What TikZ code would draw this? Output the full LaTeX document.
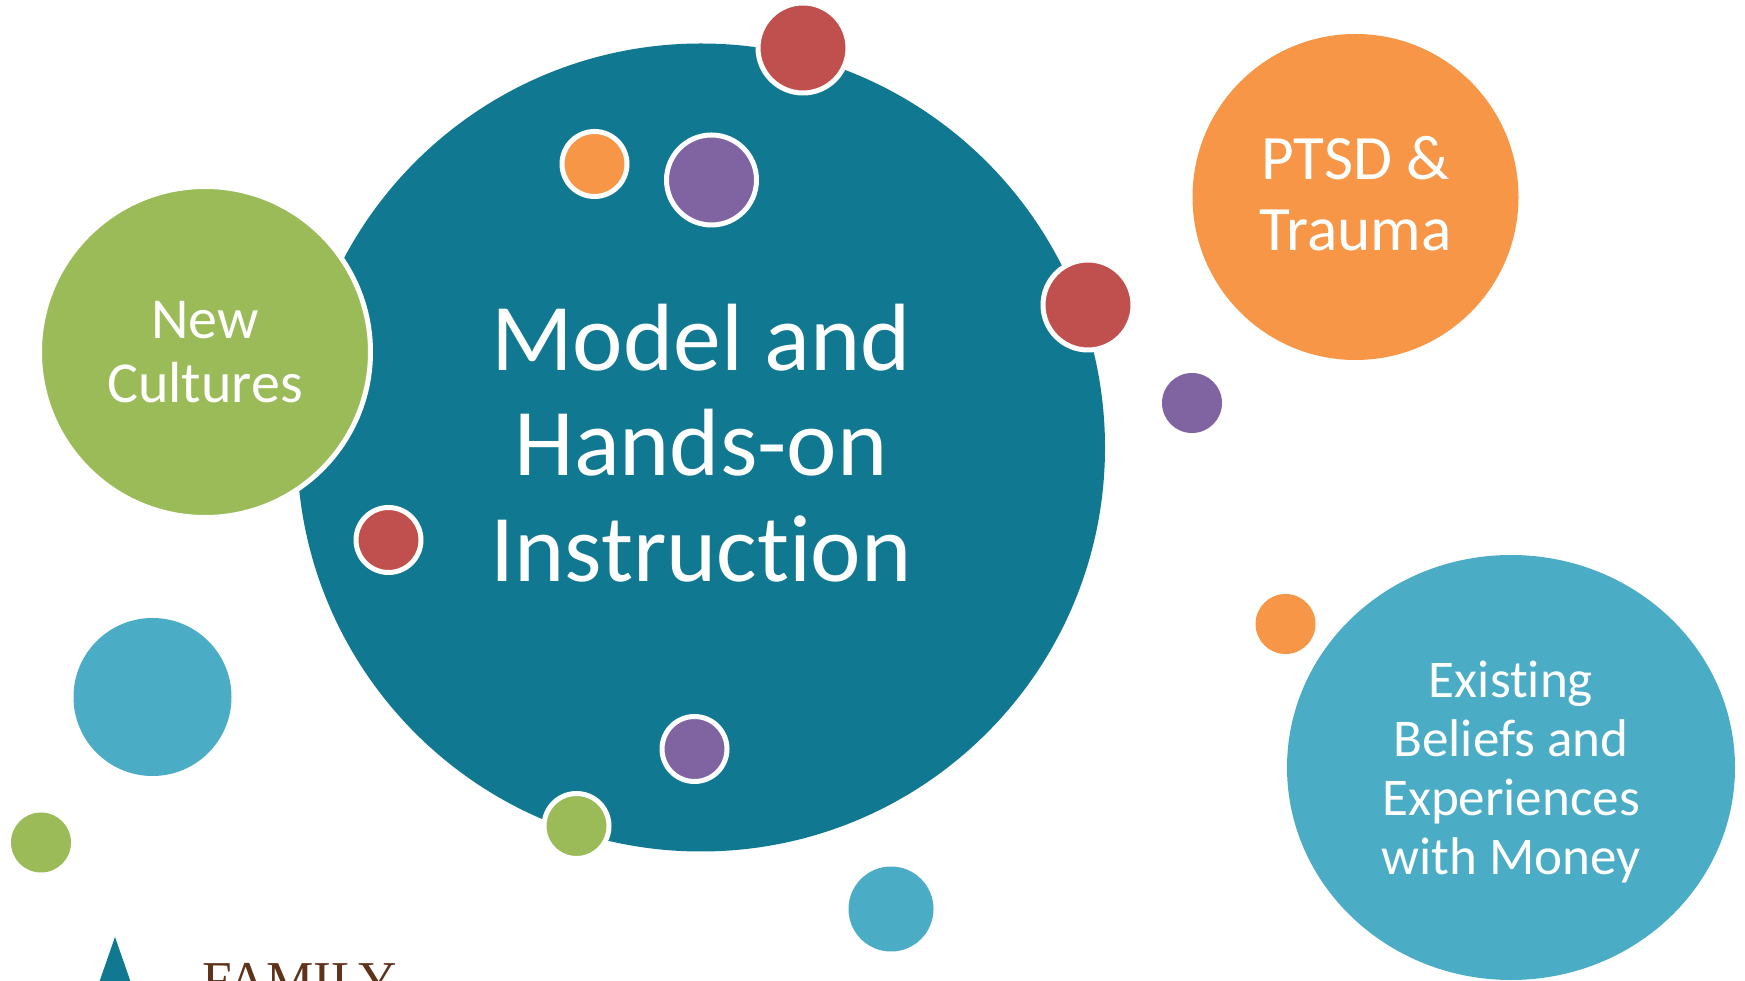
\documentclass[tikz,border=0pt]{standalone}
\usepackage{fontspec}
\setmainfont[Ligatures=NoCommon]{Carlito}
\newfontfamily\logofont{Liberation Serif}
\usetikzlibrary{positioning,shapes.geometric}
\definecolor{nice teal}{HTML}{117891}
\definecolor{nice green}{HTML}{9BBB59}
\definecolor{nice orange}{HTML}{F79646}
\definecolor{nice blue}{HTML}{4BACC6}
\definecolor{nice red}{HTML}{C0504D}
\definecolor{nice purple}{HTML}{8064A2}
\definecolor{logo brown}{HTML}{5F321A}
\tikzset{
    % Circles
    bubble/.style={circle,inner sep=0pt,outer sep=0pt,minimum size=2*#1 cm},
    ringed bubble/.style={bubble=#1,draw=white,line width=.1cm},
    %
    % Texts
    main text/.style={text=white,align=center,font=\fontsize{54.4}{59.9}\selectfont},
    big text/.style={text=white,align=center,font=\fontsize{36}{40.5}\selectfont},
    mid text/.style={text=white,align=center,font=\fontsize{33}{36.7}\selectfont},
    small text/.style={text=white,align=center,font=\fontsize{30.2}{33.5}\selectfont}
}

\begin{document}
\begin{tikzpicture}
    \useasboundingbox (0,0) rectangle (34.9,19.6);
    \clip (0,0) rectangle (34.9,19.6);
    % Big circles
    \node[bubble=8.08, fill=nice teal] (model) at (14.02,10.65) {};
    \node[main text, yshift=.09cm] (model text) at (model) {Model and\\Hands-on\\Instruction};
    \node[ringed bubble=3.31, fill=nice green, mid text] (cultures) at (4.10,12.56) {New\\Cultures};
    \node[bubble=3.26, fill=nice orange] (trauma) at (27.11,15.66) {};
    \node[big text, yshift=.06cm] (trauma text) at (trauma) {PTSD \&\\Trauma};
    \node[ellipse, inner sep=0pt, minimum width=8.96cm, minimum height=8.5cm, fill=nice blue] (beliefs) at (30.22,4.25) {};
    \node[small text, yshift=-.09cm] (beliefs text) at (beliefs) {Existing\\Beliefs and\\Experiences\\with Money};
    % Ringed dots
    \node[ringed bubble=.9, fill=nice red] (red top) at (16.06,18.64) {};
    \node[ringed bubble=.65, fill=nice orange] (orange dot) at (11.89,16.32) {};
    \node[ringed bubble=.9, fill=nice purple] (purple dot) at (14.23,16.0) {};
    \node[ringed bubble=.9, fill=nice red] (red right) at (21.76,13.5) {};
    \node[ringed bubble=.65, fill=nice red] (red left) at (7.77,8.8) {};
    \node[ringed bubble=.65, fill=nice purple] (purple low) at (13.89,4.62) {};
    \node[ringed bubble=.65, fill=nice green] (green low) at (11.53,3.08) {};
    % Plain dots
    \node[bubble=.6, fill=nice purple] (purple right) at (23.84,11.54) {};
    \node[bubble=.6, fill=nice orange] (orange right) at (25.71,7.12) {};
    \node[bubble=1.58, fill=nice blue] (blue left) at (3.05,5.66) {};
    \node[bubble=.6, fill=nice green] (green small) at (.82,2.75) {};
    \node[bubble=.85, fill=nice blue] (blue low) at (17.82,1.42) {};
    % Logo
    \fill[nice teal] (2.3,.86) -- (2.67,-.2) -- (1.93,-.2) -- cycle;
    \node[anchor=base west, inner sep=0pt, text=logo brown, font=\logofont\fontsize{30.3}{32}\selectfont] (family) at (4.04,-.36) {FAMILY};
\end{tikzpicture}
\end{document}
